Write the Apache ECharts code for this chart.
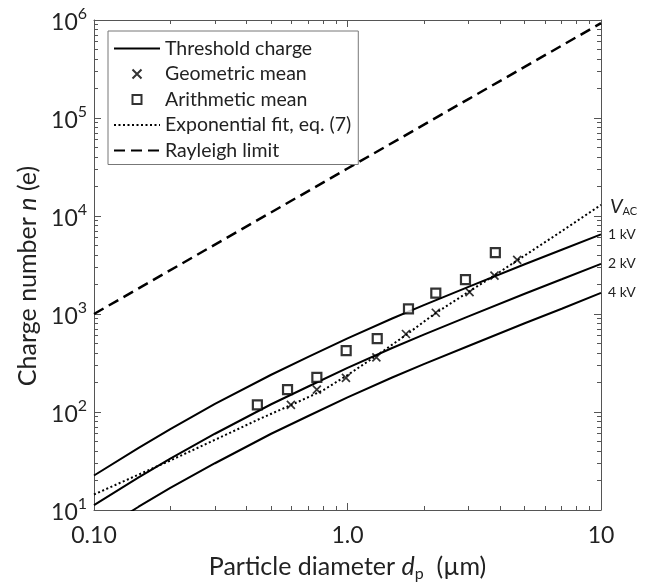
<!DOCTYPE html>
<html>
<head>
<meta charset="utf-8">
<script src="https://cdn.jsdelivr.net/npm/echarts@6/dist/echarts.min.js"></script>
<style>
  html, body { margin: 0; padding: 0; background: #fff; }
  #chart { width: 645px; height: 587px; }
</style>
</head>
<body>
<div id="chart"></div>
<script>
// threshold charge curves, one per AC voltage
const diam = [0.1, 0.15, 0.2, 0.3, 0.5, 0.7, 1, 1.5, 2, 3, 5, 7, 10];
const thr1kV = [22.5, 43, 67, 121, 240, 365, 565, 900, 1230, 1890, 3220, 4520, 6490];
const thr2kV = [11.2, 21.5, 33.5, 60, 120, 182, 282, 450, 615, 945, 1610, 2260, 3250];
const thr4kV = [5.6, 10.8, 16.8, 30, 60, 91, 141, 225, 308, 472, 805, 1130, 1640];

// exponential fit, eq. (7)
const fitDiam = [0.1, 0.2, 0.3, 0.45, 0.6, 0.8, 1.0, 1.3, 1.7, 2.2, 3.0, 4.0, 5.0, 7.0, 10];
const fitCharge = [14.4, 32, 52, 85, 118, 166, 238, 375, 610, 1000, 1680, 2700, 3950, 7000, 13000];

// measured means
const geoDiam = [0.598, 0.757, 0.986, 1.30, 1.70, 2.23, 3.03, 3.80, 4.67];
const geoCharge = [118, 169, 223, 361, 625, 1030, 1670, 2460, 3560];
const ariDiam = [0.441, 0.580, 0.757, 0.988, 1.31, 1.74, 2.23, 2.92, 3.83];
const ariCharge = [118, 169, 226, 423, 560, 1130, 1630, 2240, 4220];

// Rayleigh limit
const rayDiam = [0.1, 0.3, 1, 3, 10];
const rayCharge = [1000, 5110, 30500, 155900, 930000];

// ticks
const xMajor = [0.1, 1, 10];
const xMinor = [0.2, 0.3, 0.4, 0.5, 0.6, 0.7, 0.8, 0.9, 2, 3, 4, 5, 6, 7, 8, 9];
const yMajor = [10, 100, 1000, 10000, 100000, 1000000];
const yMinor = [];
[10, 100, 1000, 10000, 100000].forEach(function (d) {
  for (let k = 2; k <= 9; k++) yMinor.push(d * k);
});

const FONT = 'Lato';
const AX = '#555';
const TXT = '#222';
const CROSS = 'path://M0,0L10,10M10,0L0,10';
const SQUARE = 'path://M0,0L10,0L10,10L0,10Z';

const pairs = (xs, ys) => xs.map((x, i) => [x, ys[i]]);

function xAx(pos, ticks, len, labels) {
  return {
    type: 'log', logBase: 10, min: 0.1, max: 10, position: pos,
    axisLine: { show: len > 5, lineStyle: { color: AX, width: 1 } },
    axisTick: { show: true, inside: true, length: len, customValues: ticks, lineStyle: { color: AX } },
    axisLabel: labels ? {
      show: true, customValues: xMajor, margin: 14, color: TXT,
      fontFamily: FONT, fontSize: 23,
      formatter: function (v) { return v < 0.5 ? '0.10' : (v < 5 ? '1.0' : '10'); }
    } : { show: false },
    splitLine: { show: false },
    minorTick: { show: false }
  };
}

function yAx(pos, ticks, len, labels) {
  return {
    type: 'log', logBase: 10, min: 10, max: 1000000, position: pos,
    axisLine: { show: len > 5, lineStyle: { color: AX, width: 1 } },
    axisTick: { show: true, inside: true, length: len, customValues: ticks, lineStyle: { color: AX } },
    axisLabel: labels ? {
      show: true, customValues: yMajor, margin: 7, color: TXT,
      formatter: function (v) {
        return '{b|10}{e|' + Math.round(Math.log10(v)) + '}';
      },
      rich: {
        b: { fontFamily: FONT, fontSize: 23, lineHeight: 28, verticalAlign: 'bottom', color: TXT },
        e: { fontFamily: FONT, fontSize: 16, lineHeight: 12, verticalAlign: 'top', color: TXT }
      }
    } : { show: false },
    splitLine: { show: false },
    minorTick: { show: false }
  };
}

const chart = echarts.init(document.getElementById('chart'), null, { renderer: 'canvas' });

const xAxes = [
  xAx('bottom', xMajor, 7, true),
  xAx('bottom', xMinor, 4, false),
  xAx('top', xMajor, 7, false),
  xAx('top', xMinor, 4, false)
];
xAxes[0].name = 'Particle diameter {i|d}{s|p}  (\u00b5m)';
xAxes[0].nameLocation = 'middle';
xAxes[0].nameGap = 42;
xAxes[0].nameTextStyle = {
  fontFamily: FONT, fontSize: 25, color: TXT, lineHeight: 30,
  rich: {
    i: { fontFamily: FONT, fontSize: 25, fontStyle: 'italic', lineHeight: 30, color: TXT },
    s: { fontFamily: FONT, fontSize: 16, lineHeight: 12, verticalAlign: 'bottom', color: TXT }
  }
};

const yAxes = [
  yAx('left', yMajor, 7, true),
  yAx('left', yMinor, 4, false),
  yAx('right', yMajor, 7, false),
  yAx('right', yMinor, 4, false)
];
yAxes[0].name = 'Charge number {i|n} (e)';
yAxes[0].nameLocation = 'middle';
yAxes[0].nameGap = 52;
yAxes[0].nameTextStyle = {
  fontFamily: FONT, fontSize: 25, color: TXT, padding: [0, 22, 0, 0],
  rich: { i: { fontFamily: FONT, fontSize: 25, fontStyle: 'italic', color: TXT } }
};

function thrSeries(data, label) {
  return {
    name: 'Threshold charge', type: 'line', data: data, symbol: 'none',
    color: '#000', clip: true,
    lineStyle: { color: '#000', width: 2, type: 'solid' },
    endLabel: { show: true, formatter: label, distance: 7, fontFamily: FONT, fontSize: 14, color: TXT },
    z: 3
  };
}

const hideDot = { opacity: 0 };

const option = {
  animation: false,
  backgroundColor: '#fff',
  grid: { left: 94, right: 44, top: 20, bottom: 75, containLabel: false },
  xAxis: xAxes,
  yAxis: yAxes,
  legend: {
    orient: 'vertical', left: 108, top: 31,
    itemWidth: 46, itemHeight: 9, itemGap: 5.5,
    padding: [7.5, 7, 4, 5],
    backgroundColor: '#fff', borderColor: '#777', borderWidth: 1,
    selectedMode: false, symbolKeepAspect: true,
    textStyle: { fontFamily: FONT, fontSize: 19.5, color: TXT, lineHeight: 17 },
    data: [
      { name: 'Threshold charge', itemStyle: hideDot },
      { name: 'Geometric mean' },
      { name: 'Arithmetic mean' },
      { name: 'Exponential fit, eq. (7)', itemStyle: hideDot },
      { name: 'Rayleigh limit', itemStyle: hideDot }
    ]
  },
  graphic: [{
    type: 'text', left: 610, top: 197,
    style: {
      text: '{v|V}{s|AC}',
      rich: {
        v: { fontFamily: FONT, fontSize: 20, fontStyle: 'italic', lineHeight: 22, verticalAlign: 'bottom', fill: TXT },
        s: { fontFamily: FONT, fontSize: 11, lineHeight: 11, verticalAlign: 'bottom', fill: TXT }
      }
    }
  }],
  series: [
    thrSeries(pairs(diam, thr1kV), '1 kV'),
    thrSeries(pairs(diam, thr2kV), '2 kV'),
    thrSeries(pairs(diam, thr4kV), '4 kV'),
    {
      name: 'Geometric mean', type: 'scatter', data: pairs(geoDiam, geoCharge),
      symbol: CROSS, symbolSize: 8, symbolKeepAspect: true,
      itemStyle: { color: 'transparent', borderColor: '#000', borderWidth: 1.7 },
      z: 5
    },
    {
      name: 'Arithmetic mean', type: 'scatter', data: pairs(ariDiam, ariCharge),
      symbol: SQUARE, symbolSize: 9, symbolKeepAspect: true,
      itemStyle: { color: '#fff', borderColor: '#000', borderWidth: 2.2 },
      z: 5
    },
    {
      name: 'Exponential fit, eq. (7)', type: 'line', data: pairs(fitDiam, fitCharge),
      symbol: 'none', color: '#000', clip: true,
      lineStyle: { color: '#000', width: 2, type: [2, 2.5] },
      z: 4
    },
    {
      name: 'Rayleigh limit', type: 'line', data: pairs(rayDiam, rayCharge),
      symbol: 'none', color: '#000', clip: true,
      lineStyle: { color: '#000', width: 2.5, type: [11, 6] },
      z: 3
    }
  ]
};

chart.setOption(option);
</script>
</body>
</html>
